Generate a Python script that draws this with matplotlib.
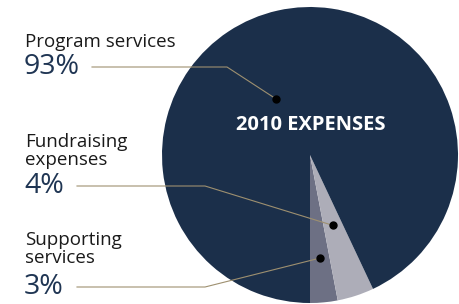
import numpy as np
import matplotlib
matplotlib.use("Agg")
import matplotlib.pyplot as plt

# data
labels = ["Supporting\nservices", "Fundraising\nexpenses", "Program services"]
values = [3, 4, 93]
pct_text = ["3%", "4%", "93%"]
colors = ["#6d7084", "#adadb8", "#1b2f4a"]
title = "2010 EXPENSES"

W, H = 460, 304
plt.rcParams["font.family"] = ["Open Sans", "DejaVu Sans"]

fig = plt.figure(figsize=(W / 100, H / 100), dpi=100)
ax = fig.add_axes([0, 0, 1, 1])

cx, cy, r = 310, H - 155, 148
wedges, _ = ax.pie(values, colors=colors, startangle=-90, counterclock=True,
                   center=(cx, cy), radius=r, frame=True,
                   wedgeprops=dict(linewidth=0))
ax.set_xlim(0, W)
ax.set_ylim(0, H)
ax.set_aspect("equal")
ax.axis("off")

ax.text(cx + 1, H - 125, title, color="white", fontsize=14.5, fontweight="bold",
        ha="center", va="center")

# label layout: (label y, pct y, elbow x, fraction along wedge, radius fraction)
layout = [
    (H - 249, H - 287, 205, 0.5, 0.70),
    (H - 151, H - 186, 205, 0.5, 0.50),
    (H - 42, H - 67, 227, 0.555, 0.44),
]
line_col = "#9e9070"
for w, lab, pct, (ly, py, ex, frac, rf) in zip(wedges, labels, pct_text, layout):
    ang = np.deg2rad(w.theta1 + frac * (w.theta2 - w.theta1))
    dx, dy = cx + rf * r * np.cos(ang), cy + rf * r * np.sin(ang)
    ax.text(25, ly, lab, fontsize=13.5, color="#1a1a1a", ha="left", va="center",
            linespacing=1.0)
    ax.text(24, py, pct, fontsize=20.5, color="#1f3553", ha="left", va="center")
    x0 = 92 if pct == "93%" else 77
    ax.plot([x0, ex, dx], [py, py, dy], color=line_col, lw=0.8, zorder=3)
    ax.plot(dx, dy, "o", color="black", ms=5, zorder=4)

fig.savefig("out.png", dpi=100)
